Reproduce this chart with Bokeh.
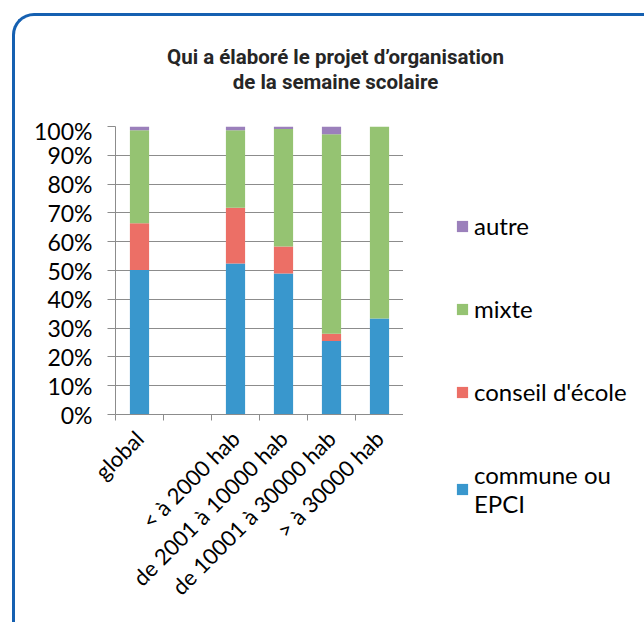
import math
from bokeh.plotting import figure
from bokeh.layouts import column, row
from bokeh.models import (ColumnDataSource, FixedTicker, NumeralTickFormatter, Legend,
                          LegendItem, Range1d, Div)
from bokeh.embed import file_html
from bokeh.resources import INLINE

title_lines = ["Qui a élaboré le projet d\u2019organisation", "de la semaine scolaire"]
categories = ["global", "", "< à 2000 hab", "de 2001 à 10000 hab",
              "de 10001 à 30000 hab", "> à 30000 hab"]
commune = [0.502, 0.0, 0.524, 0.490, 0.255, 0.333]
conseil = [0.162, 0.0, 0.194, 0.093, 0.025, 0.0]
mixte = [0.323, 0.0, 0.269, 0.408, 0.693, 0.667]
autre = [0.013, 0.0, 0.013, 0.009, 0.027, 0.0]
series_names = ["commune", "conseil", "mixte", "autre"]
series_labels = ["commune ou\nEPCI", "conseil d'école", "mixte", "autre"]
colors = ["#3997cd", "#ec6f66", "#95c372", "#9b80bb"]
y_ticks = [i / 10 for i in range(11)]

xpos = [i + 0.5 for i in range(len(categories))]
source = ColumnDataSource(dict(x=xpos, commune=commune, conseil=conseil, mixte=mixte, autre=autre))

BLUE = "#1560b1"
FONT = "Lato"
GRAY = "#8c8c8c"

# ---- title block ----
title_div = Div(text="<br>".join(title_lines), width=629, height=100,
                styles={"text-align": "center", "font-family": "Roboto", "font-weight": "bold",
                        "font-size": "20.5px", "line-height": "25px", "color": "#262626",
                        "padding-top": "29px", "padding-left": "12px", "box-sizing": "border-box",
                        "margin": "0"})

# ---- main chart ----
p = figure(width=388, height=506, output_backend="svg", toolbar_location=None,
           x_range=Range1d(0, len(categories)), y_range=Range1d(0, 1),
           min_border_left=100, min_border_right=0, min_border_top=10, min_border_bottom=208)
p.outline_line_color = None
p.background_fill_color = "white"
p.border_fill_color = "white"

renderers = p.vbar_stack(series_names, x="x", width=0.4, color=colors, source=source, line_width=0)

xa = p.xaxis[0]
xa.ticker = FixedTicker(ticks=xpos, minor_ticks=list(range(len(categories) + 1)))
xa.major_label_overrides = {x: c for x, c in zip(xpos, categories)}
xa.major_tick_line_color = None
xa.minor_tick_line_color = GRAY
xa.minor_tick_out = 6
xa.minor_tick_in = 0
xa.axis_line_color = GRAY
xa.major_label_orientation = math.pi / 4
xa.major_label_text_font = FONT
xa.major_label_text_font_size = "22px"
xa.major_label_text_color = "black"
xa.major_label_standoff = 14

ya = p.yaxis[0]
ya.ticker = FixedTicker(ticks=y_ticks, minor_ticks=[])
ya.formatter = NumeralTickFormatter(format="0%")
ya.major_tick_out = 8
ya.major_tick_in = 0
ya.major_tick_line_color = GRAY
ya.axis_line_color = GRAY
ya.major_label_text_font = FONT
ya.major_label_text_font_size = "23px"
ya.major_label_text_color = "black"
ya.major_label_standoff = 15

p.xgrid.grid_line_color = None
p.ygrid.grid_line_color = GRAY
p.ygrid.grid_line_width = 1

# ---- legend panel (proxy renderers lie outside this panel's ranges) ----
p2 = figure(width=241, height=506, output_backend="svg", toolbar_location=None,
            x_axis_type=None, y_axis_type=None, min_border=0,
            x_range=Range1d(-20, -19), y_range=Range1d(-20, -19))
p2.outline_line_color = None
p2.background_fill_color = "white"
p2.border_fill_color = "white"
p2.grid.visible = False
for fig in (p, p2):
    if "frame_align" in fig.properties():
        fig.frame_align = False
leg_renderers = p2.vbar_stack(series_names, x="x", width=0.4, color=colors, source=source,
                              line_width=0)

items = [LegendItem(label=series_labels[i], renderers=[leg_renderers[i]]) for i in [3, 2, 1, 0]]
legend = Legend(items=items, location=(52, 104), orientation="vertical",
                glyph_width=14, glyph_height=14, label_standoff=5, spacing=54,
                padding=0, margin=0, border_line_color=None, background_fill_alpha=0,
                label_text_font=FONT, label_text_font_size="24px", label_text_color="black")
p2.add_layout(legend)

layout = column(title_div, row(p, p2),
                styles={"margin-left": "12px", "margin-top": "13px",
                        "border-top": f"3px solid {BLUE}", "border-left": f"3px solid {BLUE}",
                        "border-top-left-radius": "22px", "background": "white"})

open("out.html", "w").write(file_html(layout, INLINE))
